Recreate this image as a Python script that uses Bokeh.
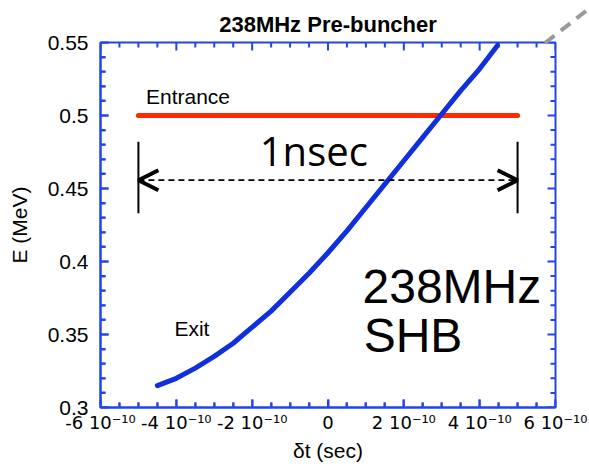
from bokeh.plotting import figure
from bokeh.models import Range1d, FixedTicker, Label, Arrow, OpenHead, Div, ColumnDataSource
from bokeh.embed import file_html
from bokeh.resources import INLINE

# ---- data (time in units of 1e-10 s, energy in MeV) ----
exit_dt = [-4.5, -4.0, -3.5, -3.0, -2.5, -2.0, -1.5, -1.0, -0.5, 0.0, 0.5, 1.0, 1.5, 2.0, 2.5, 3.0, 3.5, 4.0, 4.47]
exit_E = [0.315, 0.320, 0.327, 0.335, 0.344, 0.355, 0.366, 0.379, 0.392, 0.406, 0.421, 0.437, 0.453, 0.469, 0.485, 0.501, 0.517, 0.532, 0.548]

entrance_dt = [-5.0, 5.0]
entrance_E = [0.5, 0.5]

bracket_dt = [-5.0, 5.0]
bracket_E_low = 0.433
bracket_E_high = 0.482
arrow_E = 0.4557

x_min, x_max = -6, 6
y_min, y_max = 0.3, 0.55
x_ticks = [-6, -4, -2, 0, 2, 4, 6]
x_tick_labels = ["-6 10\u207b\u00b9\u2070", "-4 10\u207b\u00b9\u2070", "-2 10\u207b\u00b9\u2070", "0",
                 "2 10\u207b\u00b9\u2070", "4 10\u207b\u00b9\u2070", "6 10\u207b\u00b9\u2070"]
x_minor = [-5.5, -5, -4.5, -3.5, -3, -2.5, -1.5, -1, -0.5, 0.5, 1, 1.5, 2.5, 3, 3.5, 4.5, 5, 5.5]
y_ticks = [0.3, 0.35, 0.4, 0.45, 0.5, 0.55]
y_tick_labels = ["0.3", "0.35", "0.4", "0.45", "0.5", "0.55"]
y_minor = [0.31, 0.32, 0.33, 0.34, 0.36, 0.37, 0.38, 0.39, 0.41, 0.42, 0.43, 0.44,
           0.46, 0.47, 0.48, 0.49, 0.51, 0.52, 0.53, 0.54]

BLUE_AX = "#2244ee"
BLUE_LINE = "#1030dd"
RED = "#ff2a00"
FONT = "Liberation Sans"

W, H = 589, 464
B_LEFT, B_RIGHT, B_TOP, B_BOTTOM = 100, 34, 42, 56

p = figure(width=W, height=H, x_range=Range1d(x_min, x_max), y_range=Range1d(y_min, y_max),
           output_backend="svg", toolbar_location=None,
           min_border_left=B_LEFT, min_border_right=B_RIGHT, min_border_top=B_TOP, min_border_bottom=B_BOTTOM)
p.grid.visible = False
p.outline_line_color = BLUE_AX
p.outline_line_width = 2
p.outline_line_alpha = 1.0

p.title.text = "238MHz Pre-buncher"
p.title.text_font = FONT
p.title.text_font_size = "22px"
p.title.text_font_style = "bold"
p.title.text_color = "black"
p.title.align = "center"
p.title.vertical_align = "middle"

for ax, ticks, minor, labels, font, size, axis_label in [
    (p.xaxis[0], x_ticks, x_minor, x_tick_labels, "DejaVu Sans", "18px", "\u03b4t (sec)"),
    (p.yaxis[0], y_ticks, y_minor, y_tick_labels, FONT, "21px", "E (MeV)"),
]:
    ax.ticker = FixedTicker(ticks=ticks, minor_ticks=minor)
    ax.axis_line_color = BLUE_AX
    ax.axis_line_width = 2
    # inward ticks drawn by the axis itself
    ax.major_tick_line_color = BLUE_AX
    ax.minor_tick_line_color = BLUE_AX
    ax.major_tick_line_width = 2
    ax.minor_tick_line_width = 2
    ax.major_tick_in = 8
    ax.major_tick_out = 0
    ax.minor_tick_in = 5
    ax.minor_tick_out = 0
    ax.major_label_overrides = dict(zip(ticks, labels))
    ax.major_label_text_font = font
    ax.major_label_text_font_size = size
    ax.major_label_text_color = "black"
    ax.axis_label = axis_label
    ax.axis_label_text_font = FONT
    ax.axis_label_text_font_size = "21px"
    ax.axis_label_text_font_style = "normal"
    ax.axis_label_text_color = "black"

p.xaxis.major_label_standoff = 4
p.xaxis.axis_label_standoff = 3
p.yaxis.major_label_standoff = 12
p.yaxis.axis_label_standoff = 14

# inward tick marks on all four sides as glyphs (lengths in pixels converted to data units)
dx_per_px = (x_max - x_min) / (W - B_LEFT - B_RIGHT)
dy_per_px = (y_max - y_min) / (H - B_TOP - B_BOTTOM)
MAJ, MIN = 8, 5
tx0, ty0, tx1, ty1 = [], [], [], []
for xs, length in [(x_ticks, MAJ), (x_minor, MIN)]:
    for x in xs:
        tx0 += [x, x]
        tx1 += [x, x]
        ty0 += [y_min, y_max]
        ty1 += [y_min + length * dy_per_px, y_max - length * dy_per_px]
for ys, length in [(y_ticks, MAJ), (y_minor, MIN)]:
    for y in ys:
        tx0 += [x_min, x_max]
        tx1 += [x_min + length * dx_per_px, x_max - length * dx_per_px]
        ty0 += [y, y]
        ty1 += [y, y]
tick_src = ColumnDataSource(dict(x0=tx0, y0=ty0, x1=tx1, y1=ty1))
p.segment(x0="x0", y0="y0", x1="x1", y1="y1", source=tick_src, line_color=BLUE_AX, line_width=2)

# entrance line
p.line(entrance_dt, entrance_E, line_color=RED, line_width=5, line_cap="round")
# exit curve
p.line(exit_dt, exit_E, line_color=BLUE_LINE, line_width=5, line_cap="round", line_join="round")

# brackets
p.segment(x0=bracket_dt, y0=[bracket_E_low] * 2, x1=bracket_dt, y1=[bracket_E_high] * 2,
          line_color="black", line_width=2)

# 1 nsec arrow
p.add_layout(Arrow(start=OpenHead(size=20, line_width=4, line_color="black"),
                   end=OpenHead(size=20, line_width=4, line_color="black"),
                   x_start=bracket_dt[0], y_start=arrow_E, x_end=bracket_dt[1], y_end=arrow_E,
                   line_color="black", line_width=1.8, line_dash="6 4"))

label_kw = dict(text_color="black", text_baseline="alphabetic", text_align="left")
p.add_layout(Label(x=-4.80, y=0.513, text="Entrance", text_font=FONT, text_font_size="21px", **label_kw))
p.add_layout(Label(x=-4.05, y=0.354, text="Exit", text_font=FONT, text_font_size="21px", **label_kw))
p.add_layout(Label(x=-1.80, y=0.476, text="1nsec", text_font="Open Sans", text_font_size="40px", **label_kw))
p.add_layout(Label(x=0.91, y=0.383, text="238MHz", text_font=FONT, text_font_size="48px", **label_kw))
p.add_layout(Label(x=0.94, y=0.349, text="SHB", text_font=FONT, text_font_size="48px", **label_kw))

# grey dashed pointer line leaving the chart at the upper right (separate root, page-positioned)
pointer = Div(text='<svg width="70" height="64" xmlns="http://www.w3.org/2000/svg">'
                   '<line x1="2" y1="50" x2="66" y2="0" stroke="#9a9a9a" stroke-width="4" '
                   'stroke-dasharray="12 8"/></svg>',
              width=70, height=64,
              styles={"position": "absolute", "left": "538px", "top": "-12px", "z-index": "10"})

open("out.html", "w").write(file_html([p, pointer], INLINE))
